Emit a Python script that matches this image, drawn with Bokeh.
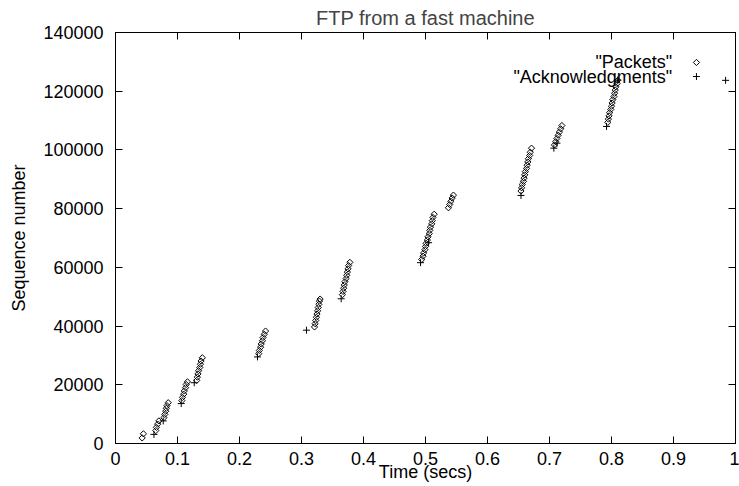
import math
from bokeh.plotting import figure
from bokeh.models import (LinearAxis, FixedTicker, CustomJSTickFormatter, Range1d,
                          Label, ColumnDataSource)
from bokeh.embed import file_html
from bokeh.resources import INLINE

# ---------------- data ----------------
pkt_time = [0.043, 0.045,
            0.065, 0.066, 0.068, 0.070, 0.078, 0.0795, 0.081, 0.082, 0.083, 0.085,
            0.107, 0.108, 0.110, 0.111, 0.113, 0.114, 0.116,
            0.131, 0.132, 0.133, 0.134, 0.136, 0.137, 0.138, 0.140,
            0.231, 0.232, 0.234, 0.235, 0.237, 0.238, 0.240, 0.242,
            0.321, 0.322, 0.323, 0.324, 0.325, 0.326, 0.327, 0.328, 0.329, 0.330,
            0.366, 0.367, 0.368, 0.369, 0.370, 0.372, 0.373, 0.374, 0.375, 0.376, 0.378,
            0.494, 0.496, 0.497, 0.499, 0.500, 0.501, 0.503, 0.504, 0.506, 0.507, 0.508,
            0.510, 0.511, 0.512, 0.514,
            0.537, 0.539, 0.541, 0.543, 0.545,
            0.654, 0.655, 0.656, 0.658, 0.659, 0.660, 0.661, 0.663, 0.664, 0.665, 0.666,
            0.668, 0.669, 0.671,
            0.708, 0.710, 0.712, 0.714, 0.716, 0.718, 0.720,
            0.794, 0.795, 0.796, 0.797, 0.799, 0.800, 0.801, 0.802, 0.804, 0.805, 0.806,
            0.807, 0.809, 0.810]
pkt_seq = [1900, 3300,
           4400, 5500, 6600, 7700, 8800, 9900, 11000, 12000, 12900, 13900,
           14600, 15700, 16800, 17900, 19000, 20100, 21000,
           21500, 22600, 23700, 24800, 25900, 27000, 28100, 29200,
           30600, 31700, 32800, 33900, 35000, 36100, 37200, 38300,
           39700, 40800, 41900, 43000, 44100, 45200, 46300, 47400, 48500, 49200,
           50700, 51800, 52900, 54000, 55100, 56200, 57300, 58400, 59500, 60600, 61700,
           62700, 63800, 64900, 66000, 67100, 68200, 69300, 70400, 71500, 72600, 73700,
           74800, 75900, 77000, 78100,
           80300, 81400, 82500, 83600, 84600,
           86000, 87100, 88200, 89300, 90400, 91500, 92600, 93700, 94800, 95900, 97000,
           98100, 99200, 100600,
           101700, 102800, 103900, 105000, 106100, 107200, 108300,
           109400, 110500, 111600, 112700, 113800, 114900, 116000, 117100, 118200, 119300,
           120400, 121500, 122600, 123700]

ack_time = [0.062, 0.077, 0.106, 0.127, 0.229, 0.308, 0.364, 0.492, 0.505,
            0.654, 0.707, 0.712, 0.792, 0.810, 0.984]
ack_seq = [3100, 7700, 13600, 20700, 29500, 38600, 49300, 61600, 68400,
           84500, 100600, 102300, 108000, 123800, 123700]

x_ticks = [0, 0.1, 0.2, 0.3, 0.4, 0.5, 0.6, 0.7, 0.8, 0.9, 1.0]
y_ticks = [0, 20000, 40000, 60000, 80000, 100000, 120000, 140000]

series_names = ['"Packets"', '"Acknowledgments"']
title_text = "FTP from a fast machine"
x_label = "Time (secs)"
y_label = "Sequence number"

# ---------------- styling ----------------
FONT = "Liberation Sans"
FS = "18px"

p = figure(width=739, height=486, output_backend="svg", toolbar_location=None,
           x_range=Range1d(0, 1), y_range=Range1d(0, 140000),
           min_border_left=115, min_border_right=4, min_border_top=32,
           min_border_bottom=43, title=title_text)
p.background_fill_color = "white"
p.border_fill_color = "white"
p.outline_line_color = "black"
p.outline_line_width = 1
p.xgrid.visible = False
p.ygrid.visible = False

p.title.align = "center"
p.title.text_font = FONT
p.title.text_font_size = "20px"
p.title.text_font_style = "normal"
p.title.standoff = 8
p.title.offset = -9

fmt = CustomJSTickFormatter(code="return String(Number(tick.toFixed(2)));")
empty = CustomJSTickFormatter(code="return '';")

for ax in p.xaxis:
    ax.ticker = FixedTicker(ticks=x_ticks)
    ax.formatter = fmt
    ax.axis_label = x_label
for ax in p.yaxis:
    ax.ticker = FixedTicker(ticks=y_ticks)
    ax.formatter = fmt
    ax.axis_label = y_label

for ax in list(p.xaxis) + list(p.yaxis):
    ax.major_tick_in = 7
    ax.major_tick_out = 0
    ax.minor_tick_in = 0
    ax.minor_tick_out = 0
    ax.axis_line_color = "black"
    ax.major_tick_line_color = "black"
    ax.major_label_text_font = FONT
    ax.major_label_text_font_size = FS
    ax.major_label_text_color = "black"
    ax.axis_label_text_font = FONT
    ax.axis_label_text_font_size = FS
    ax.axis_label_text_font_style = "normal"
    ax.axis_label_text_color = "black"

p.xaxis.major_label_standoff = 8
p.xaxis.axis_label_standoff = -6
p.yaxis.major_label_standoff = 12
p.yaxis.axis_label_standoff = 11

# mirror ticks on top and right
top = LinearAxis(ticker=FixedTicker(ticks=x_ticks), formatter=empty,
                 major_tick_in=7, major_tick_out=0, minor_tick_in=0, minor_tick_out=0,
                 major_label_standoff=0, major_label_text_font_size="0px")
right = LinearAxis(ticker=FixedTicker(ticks=y_ticks), formatter=empty,
                   major_tick_in=7, major_tick_out=0, minor_tick_in=0, minor_tick_out=0,
                   major_label_standoff=0, major_label_text_font_size="0px")
p.add_layout(top, "above")
p.add_layout(right, "right")

# ---------------- data marks ----------------
src_p = ColumnDataSource(dict(x=pkt_time, y=pkt_seq))
src_a = ColumnDataSource(dict(x=ack_time, y=ack_seq))
p.scatter("x", "y", source=src_p, marker="square", angle=math.pi / 4, size=4.4,
          fill_color=None, line_color="black", line_width=1)
p.scatter("x", "y", source=src_a, marker="cross", size=7,
          line_color="black", line_width=1)

# ---------------- gnuplot-style key (text then sample) ----------------
key_text_x = 0.898
key_sample_x = 0.937
key_y = [129800, 125000]
for name, ky in zip(series_names, key_y):
    p.add_layout(Label(x=key_text_x, y=ky, text=name, text_align="right",
                       text_baseline="middle", text_font=FONT, text_font_size=FS,
                       text_color="black"))
p.scatter([key_sample_x], [key_y[0]], marker="square", angle=math.pi / 4, size=4.4,
          fill_color=None, line_color="black", line_width=1)
p.scatter([key_sample_x], [key_y[1]], marker="cross", size=7,
          line_color="black", line_width=1)

open("out.html", "w").write(file_html(p, INLINE))
